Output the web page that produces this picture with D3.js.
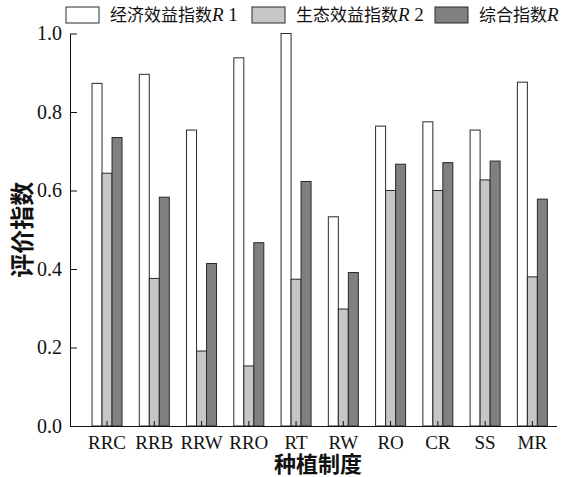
<!DOCTYPE html>
<html>
<head>
<meta charset="utf-8">
<script src="https://cdn.jsdelivr.net/npm/d3@7"></script>
<style>
  body { margin: 0; background: #fff; }
  svg { display: block; }
</style>
</head>
<body>
<svg id="chart" width="561" height="477"></svg>
<script>
/* data */
const systems = ["RRC", "RRB", "RRW", "RRO", "RT", "RW", "RO", "CR", "SS", "MR"]
const seriesNames = ["经济效益指数R 1", "生态效益指数R 2", "综合指数R"]
const econIndex = [0.873, 0.896, 0.754, 0.938, 1.0, 0.533, 0.764, 0.775, 0.754, 0.876]
const ecoIndex = [0.644, 0.376, 0.191, 0.153, 0.374, 0.298, 0.600, 0.600, 0.627, 0.380]
const totalIndex = [0.735, 0.583, 0.414, 0.467, 0.623, 0.391, 0.667, 0.671, 0.675, 0.578]
const yTicks = [0, 0.2, 0.4, 0.6, 0.8, 1.0]

const fills = ["#ffffff", "#c6c6c6", "#808080"]
const serif = "'Liberation Serif', 'Times New Roman', serif"
const cjk = "'Noto Sans CJK SC', sans-serif"

/* chart geometry */
const axisLeft = 70
const axisRight = 557
const plotTop = 33.5
const plotBottom = 426
const barWidth = 10

const svg = d3.select("#chart")

const x = d3.scaleBand(systems, [83.4, 556]).padding(0)
const xs = d3.scaleBand([0, 1, 2], [-1.5 * barWidth, 1.5 * barWidth])
const y = d3.scaleLinear([0, 1], [plotBottom, plotTop])
const values = [econIndex, ecoIndex, totalIndex]

/* bars */
const groups = svg.append("g")
  .selectAll("g")
  .data(systems)
  .join("g")
  .attr("transform", d => `translate(${x(d) + x.bandwidth() / 2},0)`)

groups.selectAll("rect")
  .data((d, i) => values.map((s, k) => ({ k, v: s[i] })))
  .join("rect")
  .attr("x", d => xs(d.k))
  .attr("width", xs.bandwidth())
  .attr("y", d => y(d.v))
  .attr("height", d => plotBottom - y(d.v))
  .attr("fill", d => fills[d.k])
  .attr("stroke", "#2a2a2a")
  .attr("stroke-width", 1)

/* y axis, ticks inside */
svg.append("g")
  .attr("transform", `translate(${axisLeft},0)`)
  .style("font-family", serif)
  .style("font-size", "20px")
  .call(d3.axisLeft(y).tickValues(yTicks).tickFormat(d3.format(".1f")).tickSizeInner(-7).tickSizeOuter(0).tickPadding(8))
  .call(g => g.attr("font-family", null).attr("font-size", null))
  .call(g => g.select(".domain").attr("stroke", "#111"))
  .call(g => g.selectAll(".tick line").attr("stroke", "#111"))
  .call(g => g.selectAll(".tick text").attr("fill", "#111"))

/* x axis, small ticks upward at group centres */
svg.append("g")
  .attr("transform", `translate(0,${plotBottom})`)
  .style("font-family", serif)
  .style("font-size", "19px")
  .call(d3.axisBottom(x).tickSizeInner(-5).tickSizeOuter(0).tickPadding(10))
  .call(g => g.attr("font-family", null).attr("font-size", null))
  .call(g => g.select(".domain").attr("d", `M${axisLeft},0.5H${axisRight}`).attr("stroke", "#111"))
  .call(g => g.selectAll(".tick line").attr("stroke", "#111"))
  .call(g => g.selectAll(".tick text").attr("fill", "#111"))

/* axis titles */
svg.append("text")
  .attr("x", 318)
  .attr("y", 472)
  .attr("text-anchor", "middle")
  .attr("font-family", cjk)
  .attr("font-weight", "bold")
  .attr("font-size", 22)
  .attr("fill", "#111")
  .text("种植制度")

svg.append("text")
  .attr("transform", `translate(31,${(plotTop + plotBottom) / 2}) rotate(-90)`)
  .attr("text-anchor", "middle")
  .attr("font-family", cjk)
  .attr("font-weight", "bold")
  .attr("font-size", 24)
  .attr("fill", "#111")
  .text("评价指数")

/* legend */
const legendX = [66, 252, 435]
const legend = svg.append("g")
  .selectAll("g")
  .data(seriesNames)
  .join("g")
  .attr("transform", (d, i) => `translate(${legendX[i]},7)`)

legend.append("rect")
  .attr("width", 33)
  .attr("height", 16)
  .attr("fill", (d, i) => fills[i])
  .attr("stroke", "#2a2a2a")

const legendText = legend.append("text")
  .attr("x", 44)
  .attr("y", 14)
  .attr("font-size", 17)
  .attr("fill", "#111")

legendText.append("tspan")
  .attr("font-family", cjk)
  .text(d => d.split("R")[0])
legendText.append("tspan")
  .attr("font-family", serif)
  .attr("font-style", "italic")
  .attr("font-size", 19)
  .text("R")
legendText.append("tspan")
  .attr("font-family", serif)
  .attr("font-size", 19)
  .text(d => d.split("R")[1])
</script>
</body>
</html>
